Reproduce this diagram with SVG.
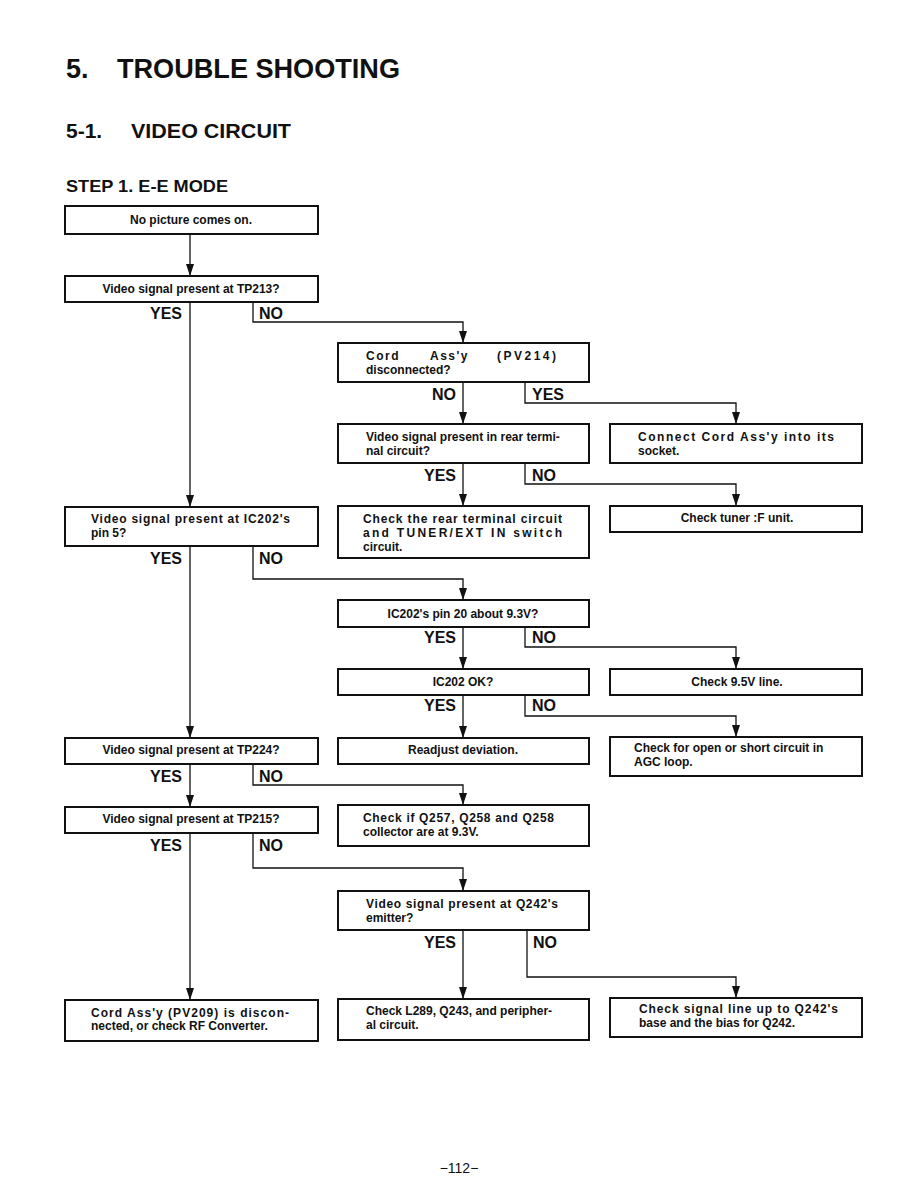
<svg xmlns="http://www.w3.org/2000/svg" width="918" height="1188" viewBox="0 0 918 1188">
<defs>
<marker id="ah" markerUnits="userSpaceOnUse" markerWidth="13" markerHeight="9" viewBox="0 0 13 9" refX="12" refY="4.5" orient="auto">
<path d="M0,0.5 L12,4.5 L0,8.5 z" fill="#111"/>
</marker>
<style>
.b{fill:#fff;stroke:#111;stroke-width:2}
.t{font-family:"Liberation Sans",Arial,sans-serif;font-weight:bold;font-size:12px;fill:#111}
.c{text-anchor:middle}
.l{font-family:"Liberation Sans",Arial,sans-serif;font-weight:bold;font-size:16px;fill:#111}
.h{font-family:"Liberation Sans",Arial,sans-serif;font-weight:bold;fill:#111}
.a{fill:none;stroke:#111;stroke-width:1.3;marker-end:url(#ah)}
</style>
</defs>
<rect width="918" height="1188" fill="#fff"/>
<g id="headings">
<text class="h" x="66" y="78" font-size="27">5.</text>
<text class="h" x="117" y="78" font-size="27" textLength="283" lengthAdjust="spacingAndGlyphs">TROUBLE SHOOTING</text>
<text class="h" x="66" y="138" font-size="21">5-1.</text>
<text class="h" x="131" y="138" font-size="21" textLength="160" lengthAdjust="spacingAndGlyphs">VIDEO CIRCUIT</text>
<text class="h" x="66" y="192" font-size="17" textLength="162" lengthAdjust="spacingAndGlyphs">STEP 1. E-E MODE</text>
<text x="459" y="1173" font-family="Liberation Sans,Arial,sans-serif" font-size="14" fill="#111" text-anchor="middle">−112−</text>
</g>
<g id="connectors">
<path class="a" d="M190,234 V276"/>
<path class="a" d="M190,302 V507"/>
<path class="a" d="M253,302 V322 H463 V343"/>
<path class="a" d="M463,382 V424"/>
<path class="a" d="M525,382 V403 H736 V424"/>
<path class="a" d="M463,463 V506"/>
<path class="a" d="M525,463 V484 H736 V506"/>
<path class="a" d="M190,546 V738"/>
<path class="a" d="M253,546 V579 H463 V600"/>
<path class="a" d="M463,627 V669"/>
<path class="a" d="M525,627 V647 H736 V669"/>
<path class="a" d="M463,695 V738"/>
<path class="a" d="M525,695 V716 H736 V737"/>
<path class="a" d="M190,764 V807"/>
<path class="a" d="M253,764 V785 H463 V805"/>
<path class="a" d="M190,833 V1000"/>
<path class="a" d="M253,833 V868 H463 V891"/>
<path class="a" d="M463,930 V999"/>
<path class="a" d="M527,930 V977 H736 V998"/>
</g>
<g id="labels">
<text class="l" x="182" y="319" text-anchor="end">YES</text>
<text class="l" x="259" y="319">NO</text>
<text class="l" x="456" y="400" text-anchor="end">NO</text>
<text class="l" x="532" y="400">YES</text>
<text class="l" x="456" y="481" text-anchor="end">YES</text>
<text class="l" x="532" y="481">NO</text>
<text class="l" x="182" y="564" text-anchor="end">YES</text>
<text class="l" x="259" y="564">NO</text>
<text class="l" x="456" y="643" text-anchor="end">YES</text>
<text class="l" x="532" y="643">NO</text>
<text class="l" x="456" y="711" text-anchor="end">YES</text>
<text class="l" x="532" y="711">NO</text>
<text class="l" x="182" y="782" text-anchor="end">YES</text>
<text class="l" x="259" y="782">NO</text>
<text class="l" x="182" y="851" text-anchor="end">YES</text>
<text class="l" x="259" y="851">NO</text>
<text class="l" x="456" y="948" text-anchor="end">YES</text>
<text class="l" x="533" y="948">NO</text>
</g>
<g id="n1"><rect class="b" x="65" y="206" width="253" height="28"/><text class="t c" x="191" y="224">No picture comes on.</text></g>
<g id="n2"><rect class="b" x="65" y="276" width="253" height="26"/><text class="t c" x="191" y="293">Video signal present at TP213?</text></g>
<g id="n3"><rect class="b" x="338" y="343" width="251" height="39"/><text class="t" y="360"><tspan x="366" letter-spacing="1.5">Cord</tspan><tspan x="430" letter-spacing="1.5">Ass'y</tspan><tspan x="497" letter-spacing="2.5">(PV214)</tspan></text><text class="t" x="366" y="374">disconnected?</text></g>
<g id="n4"><rect class="b" x="338" y="424" width="251" height="39"/><text class="t" x="366" y="441">Video signal present in rear termi-</text><text class="t" x="366" y="455">nal circuit?</text></g>
<g id="n5"><rect class="b" x="610" y="424" width="252" height="39"/><text class="t" x="638" y="441" textLength="196" lengthAdjust="spacing">Connect Cord Ass'y into its</text><text class="t" x="638" y="455">socket.</text></g>
<g id="n6"><rect class="b" x="65" y="507" width="253" height="39"/><text class="t" x="91" y="523" textLength="199" lengthAdjust="spacing">Video signal present at IC202's</text><text class="t" x="91" y="537">pin 5?</text></g>
<g id="n7"><rect class="b" x="338" y="506" width="251" height="52"/><text class="t" x="363" y="523" textLength="199" lengthAdjust="spacing">Check the rear terminal circuit</text><text class="t" x="363" y="537" textLength="199" lengthAdjust="spacing">and TUNER/EXT IN switch</text><text class="t" x="363" y="551">circuit.</text></g>
<g id="n8"><rect class="b" x="610" y="506" width="252" height="26"/><text class="t c" x="737" y="522">Check tuner :F unit.</text></g>
<g id="n9"><rect class="b" x="338" y="600" width="251" height="27"/><text class="t c" x="463" y="618">IC202's pin 20 about 9.3V?</text></g>
<g id="n10"><rect class="b" x="338" y="669" width="251" height="26"/><text class="t c" x="463" y="686">IC202 OK?</text></g>
<g id="n11"><rect class="b" x="610" y="669" width="252" height="26"/><text class="t c" x="737" y="686">Check 9.5V line.</text></g>
<g id="n12"><rect class="b" x="65" y="738" width="253" height="26"/><text class="t c" x="191" y="754">Video signal present at TP224?</text></g>
<g id="n13"><rect class="b" x="338" y="738" width="251" height="26"/><text class="t c" x="463" y="754">Readjust deviation.</text></g>
<g id="n14"><rect class="b" x="610" y="737" width="252" height="39"/><text class="t" x="634" y="752">Check for open or short circuit in</text><text class="t" x="634" y="766">AGC loop.</text></g>
<g id="n15"><rect class="b" x="65" y="807" width="253" height="26"/><text class="t c" x="191" y="823">Video signal present at TP215?</text></g>
<g id="n16"><rect class="b" x="338" y="805" width="251" height="41"/><text class="t" x="363" y="822" textLength="191" lengthAdjust="spacing">Check if Q257, Q258 and Q258</text><text class="t" x="363" y="836">collector are at 9.3V.</text></g>
<g id="n17"><rect class="b" x="338" y="891" width="251" height="39"/><text class="t" x="366" y="908" textLength="192" lengthAdjust="spacing">Video signal present at Q242's</text><text class="t" x="366" y="922">emitter?</text></g>
<g id="n18"><rect class="b" x="65" y="1000" width="253" height="41"/><text class="t" x="91" y="1017" textLength="198" lengthAdjust="spacing">Cord Ass'y (PV209) is discon-</text><text class="t" x="91" y="1030">nected, or check RF Converter.</text></g>
<g id="n19"><rect class="b" x="338" y="999" width="251" height="41"/><text class="t" x="366" y="1015">Check L289, Q243, and peripher-</text><text class="t" x="366" y="1029">al circuit.</text></g>
<g id="n20"><rect class="b" x="610" y="998" width="252" height="39"/><text class="t" x="639" y="1013" textLength="199" lengthAdjust="spacing">Check signal line up to Q242's</text><text class="t" x="639" y="1027">base and the bias for Q242.</text></g>
</svg>
